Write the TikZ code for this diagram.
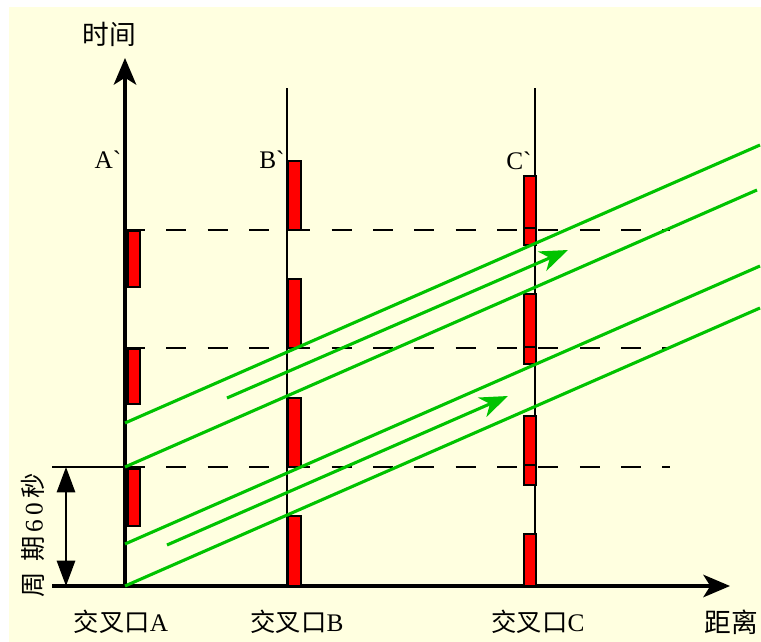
\documentclass[tikz,border=0pt]{standalone}
\usepackage{fontspec}
\setmainfont{Liberation Serif}
\newfontfamily\cjk{Noto Sans CJK SC}
\usetikzlibrary{arrows.meta}
\definecolor{haikei}{RGB}{255,255,224}
\definecolor{midori}{RGB}{0,195,0}

\begin{document}
\begin{tikzpicture}[x=0.025cm,y=-0.025cm,
 >={Stealth[length=19pt,width=16pt,inset=5pt]},
 lbl/.style={font=\fontsize{18}{21}\selectfont,inner sep=0pt},
 sig/.style={fill=red,draw=black,line width=1.4pt},
 car/.style={midori,line width=2.2pt},
 hasen/.style={line width=1.4pt,dash pattern=on 14.2pt off 15.2pt}]

 \useasboundingbox (0,0) rectangle (761,642);
 \fill[haikei] (9,7) rectangle (761,642); % 背景

 \coordinate (XS) at (52,586); % x軸最小
 \coordinate (XL) at (730,586); % x軸最大
 \coordinate (O) at (125,586); % 原点
 \coordinate (YL) at (125,58); % y軸最大
 \coordinate (BS) at (287,586); % 交差点B
 \coordinate (BL) at (287,88);
 \coordinate (CS) at (535,586); % 交差点C
 \coordinate (CL) at (535,88);
 \coordinate (TS) at (52,467); % 周期の目盛
 \coordinate (TL) at (125,467);

 \draw[hasen] (125,230) -- (670,230); % 破線
 \draw[hasen] (125,348) -- (670,348); % 破線
 \draw[hasen] (125,467) -- (670,467); % 破線

 \draw[->,line width=2.4pt] (XS) -- (XL); % x軸
 \draw[->,line width=2.4pt] (O) -- (YL); % y軸
 \draw[line width=1.5pt] (BS) -- (BL); % 交差点B
 \draw[line width=1.5pt] (CS) -- (CL); % 交差点C
 \draw[line width=1.6pt] (TS) -- (TL); % 目盛

 \draw[{Triangle[length=18pt,width=13pt]}-{Triangle[length=18pt,width=13pt]},line width=1.4pt] (66,467) -- (66,586); % 周期

 \filldraw[sig] (128,231) rectangle (140,287); % 赤信号A
 \filldraw[sig] (128,349) rectangle (140,404);
 \filldraw[sig] (128,469) rectangle (140,526);

 \filldraw[sig] (288,161) rectangle (301,230); % 赤信号B
 \filldraw[sig] (288,279) rectangle (301,348);
 \filldraw[sig] (288,398) rectangle (301,467);
 \filldraw[sig] (288,516) rectangle (301,586);

 \filldraw[sig] (524,176) rectangle (536,228); % 赤信号C
 \filldraw[sig] (524,228) rectangle (536,245);
 \filldraw[sig] (524,294) rectangle (536,347);
 \filldraw[sig] (524,347) rectangle (536,364);
 \filldraw[sig] (524,416) rectangle (536,465);
 \filldraw[sig] (524,465) rectangle (536,485);
 \filldraw[sig] (524,534) rectangle (536,586);

 \draw[car] (125,586) -- (760,308); % 車の軌跡
 \draw[car] (125,544) -- (760,266);
 \draw[car] (125,467) -- (757,190);
 \draw[car] (125,423) -- (760,145);
 \draw[car,-{Stealth[length=20pt,width=15pt,inset=6pt]}] (167,545) -- (508,396); % 矢印
 \draw[car,-{Stealth[length=20pt,width=15pt,inset=6pt]}] (227,398) -- (568,250); % 矢印

 \node[lbl,font=\fontsize{19}{22}\selectfont] (jikan) at (109,34) {\cjk 时间}; % 時間
 \node[lbl,font=\fontsize{19}{22}\selectfont] (kyori) at (731,622) {\cjk 距离}; % 距離
 \node[lbl] (kA) at (121,622) {{\cjk 交叉口}A};
 \node[lbl] (kB) at (297,622) {{\cjk 交叉口}B};
 \node[lbl] (kC) at (538,622) {{\cjk 交叉口}C};
 \node[lbl] (pA) at (108,160) {A\textasciigrave};
 \node[lbl] (pB) at (272,160) {B\textasciigrave};
 \node[lbl] (pC) at (519,161) {C\textasciigrave};
 \node[lbl,rotate=90] (shuki) at (33,535) {{\cjk 周\hspace{0.4em}期}\,6\,0\,{\cjk 秒}}; % 周期
\end{tikzpicture}
\end{document}
